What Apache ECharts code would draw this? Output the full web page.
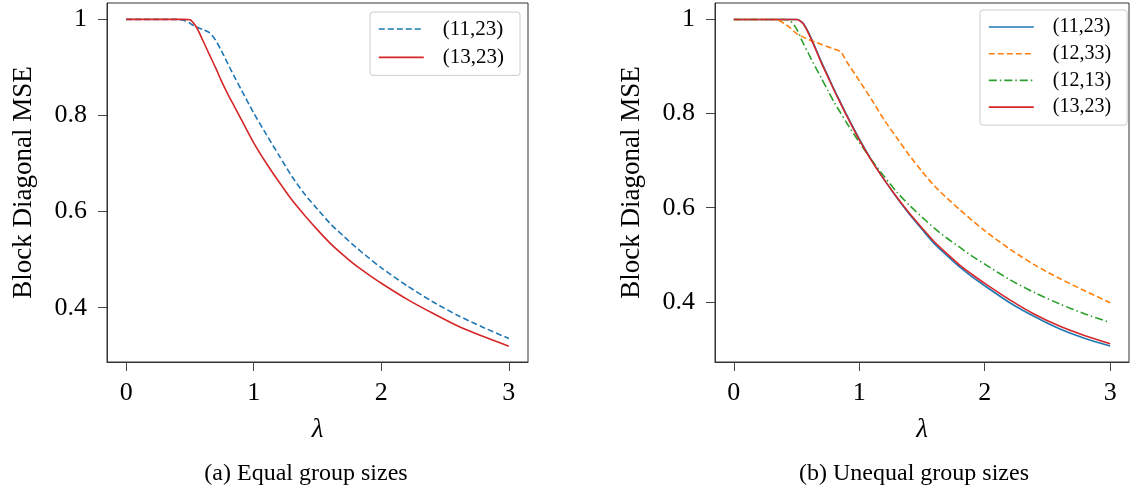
<!DOCTYPE html>
<html>
<head>
<meta charset="utf-8">
<script src="https://cdn.jsdelivr.net/npm/echarts@6/dist/echarts.min.js"></script>
<style>
html,body{margin:0;padding:0;background:#fff;}
#chart{width:1131px;height:488px;}
</style>
</head>
<body>
<div id="chart"></div>
<script>
// lambda grid shared by all curves
const lambda = [0, 0.3, 0.35, 0.4, 0.45, 0.5, 0.55, 0.6, 0.65, 0.7, 0.75, 0.8, 0.85, 0.9, 1.0, 1.1, 1.2, 1.3, 1.4, 1.5, 1.6, 1.7, 1.8, 1.9, 2.0, 2.2, 2.4, 2.6, 2.8, 3.0];

// (a) Equal group sizes
const eq_11_23 = [1, 1, 1, 1, 0.998, 0.992, 0.984, 0.979, 0.973, 0.957, 0.933, 0.906, 0.880, 0.855, 0.805, 0.760, 0.716, 0.673, 0.636, 0.605, 0.575, 0.550, 0.526, 0.504, 0.483, 0.446, 0.413, 0.384, 0.359, 0.336];
const eq_13_23 = [1, 1, 1, 1, 1, 0.999, 0.984, 0.957, 0.928, 0.900, 0.870, 0.843, 0.818, 0.793, 0.743, 0.700, 0.661, 0.624, 0.592, 0.562, 0.534, 0.510, 0.488, 0.469, 0.451, 0.418, 0.389, 0.362, 0.340, 0.320];

// (b) Unequal group sizes
const uneq_11_23 = [1, 1, 1, 1, 1, 1, 0.993, 0.970, 0.940, 0.909, 0.880, 0.851, 0.824, 0.797, 0.746, 0.700, 0.659, 0.621, 0.586, 0.554, 0.523, 0.498, 0.474, 0.453, 0.434, 0.398, 0.368, 0.342, 0.322, 0.306];
const uneq_12_33 = [1, 1, 0.999, 0.992, 0.982, 0.970, 0.963, 0.957, 0.952, 0.947, 0.942, 0.937, 0.932, 0.910, 0.870, 0.829, 0.786, 0.748, 0.711, 0.677, 0.646, 0.620, 0.596, 0.573, 0.551, 0.512, 0.478, 0.449, 0.423, 0.398];
const uneq_12_13 = [1, 1, 1, 1, 0.997, 0.980, 0.951, 0.925, 0.899, 0.874, 0.849, 0.824, 0.802, 0.780, 0.739, 0.701, 0.666, 0.633, 0.605, 0.580, 0.556, 0.535, 0.516, 0.497, 0.480, 0.447, 0.419, 0.395, 0.374, 0.356];
const uneq_13_23 = [1, 1, 1, 1, 1, 1, 0.992, 0.968, 0.938, 0.906, 0.878, 0.849, 0.822, 0.795, 0.744, 0.699, 0.659, 0.622, 0.588, 0.557, 0.527, 0.502, 0.478, 0.458, 0.439, 0.404, 0.373, 0.348, 0.328, 0.311];

// ticks and labels
const xTicks = [0, 1, 2, 3];
const yTicks = [0.4, 0.6, 0.8, 1.0];
const yTickLabels = ['0.4', '0.6', '0.8', '1'];
const captions = ['(a) Equal group sizes', '(b) Unequal group sizes'];
const yName = 'Block Diagonal MSE';
const xName = 'λ';

const FONT = 'Liberation Serif';
const C = {blue: '#1f77b4', orange: '#ff7f0e', green: '#2ca02c', red: '#d62728'};

const pairs = ys => lambda.map((x, i) => [x, ys[i]]);

function mkX(idx) {
  return {
    type: 'value', gridIndex: idx, min: -0.15, max: 3.15,
    name: xName, nameLocation: 'middle', nameGap: 54,
    nameTextStyle: {fontFamily: FONT, fontSize: 27, fontStyle: 'italic', color: '#000'},
    axisLine: {show: true, onZero: false, lineStyle: {color: '#333', width: 1}},
    axisTick: {show: true, inside: false, length: 9, customValues: xTicks, lineStyle: {color: '#444', width: 1}},
    axisLabel: {customValues: xTicks, margin: 18, fontFamily: FONT, fontSize: 26, color: '#000',
      formatter: v => String(Math.round(v))},
    splitLine: {show: false}
  };
}
function mkY(idx, mn, mx) {
  return {
    type: 'value', gridIndex: idx, min: mn, max: mx,
    name: yName, nameLocation: 'middle', nameGap: 70,
    nameTextStyle: {fontFamily: FONT, fontSize: 27, color: '#000'},
    axisLine: {show: true, onZero: false, lineStyle: {color: '#333', width: 1}},
    axisTick: {show: true, inside: false, length: 9, customValues: yTicks, lineStyle: {color: '#444', width: 1}},
    axisLabel: {customValues: yTicks, margin: 20, fontFamily: FONT, fontSize: 26, color: '#000',
      formatter: v => { const i = yTicks.findIndex(t => Math.abs(t - v) < 1e-6); return i >= 0 ? yTickLabels[i] : ''; }},
    splitLine: {show: false}
  };
}
function line(name, idx, ys, color, type) {
  return {
    name: name, type: 'line', xAxisIndex: idx, yAxisIndex: idx,
    data: pairs(ys), symbol: 'none', showSymbol: false, smooth: 0.25,
    lineStyle: {color: color, width: 1.6, type: type},
    itemStyle: {color: color},
    emphasis: {disabled: true}, animation: false
  };
}
const dashed = [6, 3];
const dashdot = [8, 3, 1.5, 3];

function legend(names, left, top, gap, fs) {
  return {
    data: names, orient: 'vertical', left: left, top: top,
    itemWidth: 45, itemHeight: 14, itemGap: gap,
    padding: [5, 16, 6, 8],
    backgroundColor: '#fff', borderColor: '#ccc', borderWidth: 1, borderRadius: 3,
    formatter: n => n.slice(2),
    itemStyle: {opacity: 0},
    lineStyle: {width: 1.6},
    textStyle: {fontFamily: FONT, fontSize: fs, lineHeight: 24, color: '#000', padding: [0, 0, 0, 14]},
    selectedMode: false
  };
}

const chart = echarts.init(document.getElementById('chart'), null, {renderer: 'canvas'});
chart.setOption({
  backgroundColor: '#fff',
  animation: false,
  title: [
    {text: captions[0], left: 301, top: 457, textAlign: 'center',
      textStyle: {fontFamily: FONT, fontSize: 24, fontWeight: 'normal', color: '#000'}},
    {text: captions[1], left: 909, top: 457, textAlign: 'center',
      textStyle: {fontFamily: FONT, fontSize: 24, fontWeight: 'normal', color: '#000'}}
  ],
  grid: [
    {left: 107, top: 3, width: 421, height: 359, show: true, borderColor: '#333', borderWidth: 1, backgroundColor: 'transparent'},
    {left: 715, top: 3, width: 414, height: 359, show: true, borderColor: '#333', borderWidth: 1, backgroundColor: 'transparent'}
  ],
  xAxis: [mkX(0), mkX(1)],
  yAxis: [mkY(0, 0.2871, 1.034), mkY(1, 0.272, 1.035)],
  legend: [
    legend(['a:(11,23)', 'a:(13,23)'], 370, 12, 4.4, 21),
    legend(['b:(11,23)', 'b:(12,33)', 'b:(12,13)', 'b:(13,23)'], 980, 10, 2.7, 20)
  ],
  series: [
    line('a:(11,23)', 0, eq_11_23, C.blue, dashed),
    line('a:(13,23)', 0, eq_13_23, C.red, 'solid'),
    line('b:(11,23)', 1, uneq_11_23, C.blue, 'solid'),
    line('b:(12,33)', 1, uneq_12_33, C.orange, dashed),
    line('b:(12,13)', 1, uneq_12_13, C.green, dashdot),
    line('b:(13,23)', 1, uneq_13_23, C.red, 'solid')
  ]
});
</script>
</body>
</html>
